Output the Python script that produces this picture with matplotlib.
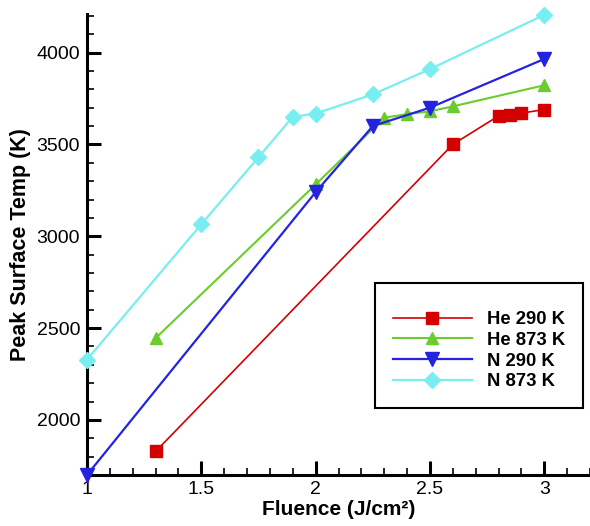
import matplotlib
matplotlib.use('Agg')
import matplotlib.pyplot as plt
from matplotlib.ticker import MultipleLocator

plt.rcParams['font.family'] = ['Liberation Sans', 'DejaVu Sans']

# peak surface temperature vs. laser fluence
he290_x = [1.3, 2.6, 2.8, 2.85, 2.9, 3.0]
he290_y = [1828, 3500, 3655, 3658, 3670, 3690]

he873_x = [1.3, 2.0, 2.3, 2.4, 2.5, 2.6, 3.0]
he873_y = [2445, 3282, 3645, 3665, 3680, 3707, 3822]

n290_x = [1.0, 2.0, 2.25, 2.5, 3.0]
n290_y = [1700, 3240, 3600, 3700, 3965]

n873_x = [1.0, 1.5, 1.75, 1.9, 2.0, 2.25, 2.5, 3.0]
n873_y = [2328, 3065, 3430, 3650, 3668, 3772, 3910, 4205]

fig = plt.figure(figsize=(5.9, 5.26), dpi=100)
ax = fig.add_axes([87 / 590, 51 / 526, 503 / 590, 461 / 526])

ax.plot(he290_x, he290_y, color='#d40000', lw=1.2, marker='s', ms=8,
        label='He 290 K', clip_on=False, zorder=3)
ax.plot(he873_x, he873_y, color='#6acc2e', lw=1.5, marker='^', ms=9,
        label='He 873 K', clip_on=False, zorder=3)
ax.plot(n290_x, n290_y, color='#2424e0', lw=1.6, marker='v', ms=10,
        label='N 290 K', clip_on=False, zorder=4)
ax.plot(n873_x, n873_y, color='#78eef0', lw=1.6, marker='D', ms=8,
        label='N 873 K', clip_on=False, zorder=3)

ax.set_xlim(1, 3.2)
ax.set_ylim(1700, 4210)
ax.xaxis.set_major_locator(MultipleLocator(0.5))
ax.xaxis.set_minor_locator(MultipleLocator(0.1))
ax.yaxis.set_major_locator(MultipleLocator(500))
ax.yaxis.set_minor_locator(MultipleLocator(100))
ax.set_xticks([1, 1.5, 2, 2.5, 3])
ax.set_xticklabels(['1', '1.5', '2', '2.5', '3'])

for side in ['top', 'right']:
    ax.spines[side].set_visible(False)
for side in ['left', 'bottom']:
    ax.spines[side].set_linewidth(2.2)

ax.tick_params(which='major', direction='in', length=10, width=2.2,
               labelsize=14, pad=5)
ax.tick_params(axis='x', which='major', pad=4)
ax.tick_params(which='minor', direction='in', length=5, width=1.2)

ax.set_xlabel('Fluence (J/cm²)', fontsize=15, fontweight='bold', labelpad=2)
ax.set_ylabel('Peak Surface Temp (K)', fontsize=15.5, fontweight='bold', labelpad=4)

leg = ax.legend(loc='upper left', bbox_to_anchor=(0.5726, 0.4165),
                fancybox=False, edgecolor='black', framealpha=1,
                prop={'weight': 'bold', 'size': 13.3},
                title=' ', title_fontsize=5,
                handlelength=4.3, handletextpad=0.8, labelspacing=0.2,
                borderpad=0.95, borderaxespad=0)
leg.get_frame().set_linewidth(1.5)

fig.savefig('out.png', dpi=100)
